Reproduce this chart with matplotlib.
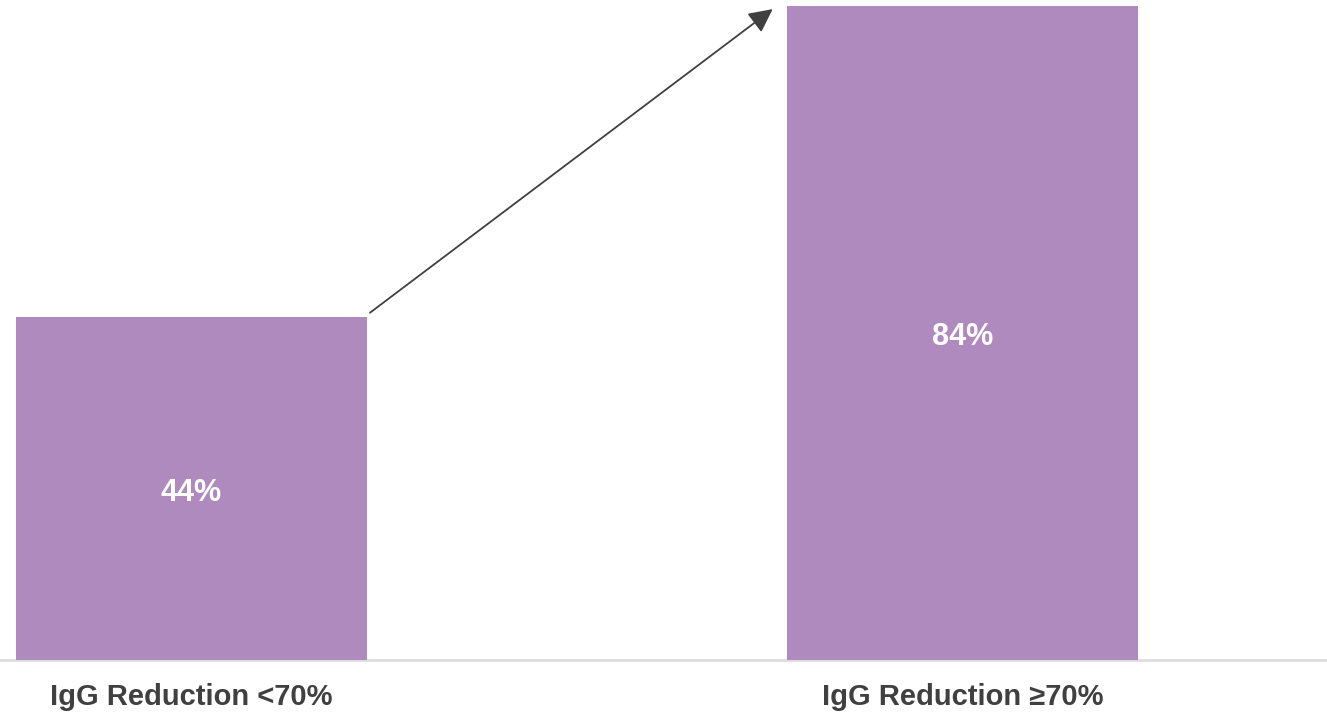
import numpy as np
import matplotlib.pyplot as plt
from matplotlib.patches import FancyArrowPatch

plt.rcParams['font.family'] = ['Liberation Sans', 'DejaVu Sans']

categories = ["IgG Reduction <70%", "IgG Reduction \u226570%"]
values = [44, 84]
value_labels = ["44%", "84%"]

bar_color = "#AF8ABF"
text_color = "#404040"

fig = plt.figure(figsize=(13.27, 7.12), dpi=100)
ax = fig.add_axes([0, 0, 1, 1])

x = np.arange(len(categories))
bar_width = 0.455
ax.bar(x, values, width=bar_width, color=bar_color, zorder=2)

# baseline
ax.axhline(0, color="#DDDDDD", linewidth=2, zorder=1)

for xi, v, lab in zip(x, values, value_labels):
    ax.text(xi, v / 2 - 0.5, lab, ha="center", va="center", color="white",
            fontsize=22, fontweight="bold", zorder=3)

for xi, cat in zip(x, categories):
    ax.text(xi, -4.8, cat, ha="center", va="center", color=text_color,
            fontsize=21, fontweight="bold")

# arrow from the top of the first bar to the top of the second
arrow = FancyArrowPatch((x[0] + bar_width / 2 + 0.004, values[0] + 0.6),
                        (x[1] - bar_width / 2 - 0.019, values[1] - 0.4),
                        arrowstyle="-|>", mutation_scale=36,
                        shrinkA=0, shrinkB=0,
                        color=text_color, linewidth=1.3, zorder=3)
ax.add_patch(arrow)

ax.set_xlim(-0.248, 1.472)
ax.set_ylim(-6.68, 84.77)
ax.axis("off")

fig.savefig("out.png", dpi=100)
